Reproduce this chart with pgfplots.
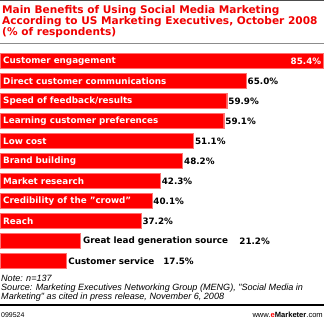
\documentclass[border=0pt]{standalone}
\usepackage{pgfplots}
\pgfplotsset{compat=1.18}
\usepackage{fontspec}
\setmainfont{DejaVu Sans}[BoldFont={DejaVu Sans Bold}]
\newfontfamily\arialfont{Liberation Sans}
\definecolor{emred}{RGB}{255,0,0}
\definecolor{titlered}{RGB}{240,0,0}
\tikzset{lbl/.style={font=\fontsize{8.8}{9}\selectfont\bfseries, inner sep=0pt}}
\begin{document}
\begin{tikzpicture}
\path[use as bounding box] (0bp,0bp) rectangle (324bp,-323bp);
\draw[black!70, line width=1.2bp] (0bp,-0.6bp) -- (324bp,-0.6bp);
\node[anchor=north west, inner sep=0pt, align=left, text=titlered,
      font=\fontsize{10.6}{11.2}\selectfont\bfseries] at (2bp,-5bp)
  {Main Benefits of Using Social Media Marketing\\According to US Marketing Executives, October 2008\\(\% of respondents)};
\draw[black!45, line width=0.8bp] (0bp,-43.5bp) -- (324bp,-43.5bp);
\begin{axis}[at={(0bp,-271bp)}, anchor=south west,
  scale only axis, width=324bp, height=220bp,
  xbar, bar width=15bp, bar shift=0pt,
  xmin=0, xmax=85.6, ymin=-0.5, ymax=10.5,
  axis lines=none, ticks=none, clip=false]
\addplot[fill=emred, draw=emred!55, line width=0.4bp] coordinates {
 (85.4,10) (65.0,9) (59.9,8) (59.1,7) (51.1,6) (48.2,5) (42.3,4) (40.1,3) (37.2,2) (21.2,1) (17.5,0)};
\node[lbl, anchor=west, text=white] at (axis cs:0.8,10) {Customer engagement};
\node[lbl, anchor=west, text=white] at (axis cs:0.8,9) {Direct customer communications};
\node[lbl, anchor=west, text=white] at (axis cs:0.8,8) {Speed of feedback/results};
\node[lbl, anchor=west, text=white] at (axis cs:0.8,7) {Learning customer preferences};
\node[lbl, anchor=west, text=white] at (axis cs:0.8,6) {Low cost};
\node[lbl, anchor=west, text=white] at (axis cs:0.8,5) {Brand building};
\node[lbl, anchor=west, text=white] at (axis cs:0.8,4) {Market research};
\node[lbl, anchor=west, text=white] at (axis cs:0.8,3) {Credibility of the "crowd"};
\node[lbl, anchor=west, text=white] at (axis cs:0.8,2) {Reach};
\node[lbl, anchor=west, text=black] at (axis cs:21.9,1) {Great lead generation source};
\node[lbl, anchor=west, text=black] at (axis cs:18.0,0) {Customer service};
\node[lbl, anchor=east, text=white] at (axis cs:84.9,10) {85.4\%};
\node[lbl, anchor=west] at (axis cs:65.4,9) {65.0\%};
\node[lbl, anchor=west] at (axis cs:60.3,8) {59.9\%};
\node[lbl, anchor=west] at (axis cs:59.5,7) {59.1\%};
\node[lbl, anchor=west] at (axis cs:51.5,6) {51.1\%};
\node[lbl, anchor=west] at (axis cs:48.6,5) {48.2\%};
\node[lbl, anchor=west] at (axis cs:42.7,4) {42.3\%};
\node[lbl, anchor=west] at (axis cs:40.5,3) {40.1\%};
\node[lbl, anchor=west] at (axis cs:37.6,2) {37.2\%};
\node[lbl, anchor=west] at (axis cs:63.2,1) {21.2\%};
\node[lbl, anchor=west] at (axis cs:43.1,0) {17.5\%};
\end{axis}
\node[anchor=base west, inner sep=0pt,
      font=\arialfont\itshape\fontsize{9.1}{9.5}\selectfont] at (1bp,-281bp)
  {Note: n=137};
\node[anchor=base west, inner sep=0pt,
      font=\arialfont\itshape\fontsize{9.1}{9.5}\selectfont] at (1bp,-290bp)
  {Source: Marketing Executives Networking Group (MENG), "Social Media in};
\node[anchor=base west, inner sep=0pt,
      font=\arialfont\itshape\fontsize{9.1}{9.5}\selectfont] at (1bp,-299bp)
  {Marketing" as cited in press release, November 6, 2008};
\draw[black, line width=1.4bp] (0bp,-305bp) -- (324bp,-305bp);
\node[anchor=base west, inner sep=0pt, font=\arialfont\fontsize{7}{8}\selectfont] at (1bp,-317bp) {099524};
\node[anchor=base east, inner sep=0pt, font=\arialfont\fontsize{7.6}{8}\selectfont] at (323bp,-317bp)
  {www.{\color{emred}\bfseries e}{\bfseries Marketer}.com};
\end{tikzpicture}
\end{document}
